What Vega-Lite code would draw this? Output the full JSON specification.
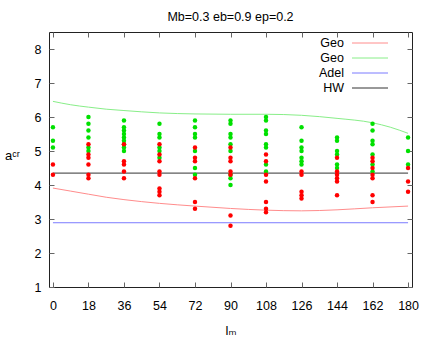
{
  "$schema": "https://vega.github.io/schema/vega-lite/v6.json",
  "width": 363,
  "height": 255,
  "autosize": {"type": "none"},
  "padding": {"left": 49, "top": 32, "right": 24, "bottom": 67},
  "background": "white",
  "title": {"text": "Mb=0.3  eb=0.9  ep=0.2", "font": "Liberation Sans", "fontSize": 12.5, "fontWeight": "normal", "color": "black", "anchor": "middle", "baseline": "alphabetic", "offset": 11, "dy": 13},
  "config": {
    "view": {"stroke": "#222", "strokeWidth": 1},
    "axis": {"labelFont": "Liberation Sans", "labelFontSize": 12.5, "labelColor": "black", "titleFont": "Liberation Sans, DejaVu Sans", "titleFontSize": 13, "titleFontWeight": "normal", "titleColor": "black", "tickColor": "#666", "tickSize": -5, "domain": false, "grid": false, "minExtent": 0}
  },
  "datasets": {
    "pts": [
      {"l":0,"a":5.7,"s":"g"},{"l":0,"a":5.3,"s":"g"},{"l":0,"a":5.1,"s":"g"},
      {"l":18,"a":6.0,"s":"g"},{"l":18,"a":5.8,"s":"g"},{"l":18,"a":5.6,"s":"g"},{"l":18,"a":5.4,"s":"g"},{"l":18,"a":5.1,"s":"g"},{"l":18,"a":5.0,"s":"g"},
      {"l":36,"a":5.9,"s":"g"},{"l":36,"a":5.7,"s":"g"},{"l":36,"a":5.6,"s":"g"},{"l":36,"a":5.5,"s":"g"},{"l":36,"a":5.4,"s":"g"},{"l":36,"a":5.3,"s":"g"},{"l":36,"a":5.2,"s":"g"},{"l":36,"a":5.1,"s":"g"},{"l":36,"a":5.0,"s":"g"},
      {"l":54,"a":5.8,"s":"g"},{"l":54,"a":5.5,"s":"g"},{"l":54,"a":5.4,"s":"g"},{"l":54,"a":5.1,"s":"g"},{"l":54,"a":5.0,"s":"g"},{"l":54,"a":4.8,"s":"g"},
      {"l":72,"a":5.9,"s":"g"},{"l":72,"a":5.7,"s":"g"},{"l":72,"a":5.5,"s":"g"},{"l":72,"a":5.4,"s":"g"},{"l":72,"a":5.0,"s":"g"},{"l":72,"a":4.5,"s":"g"},{"l":72,"a":4.3,"s":"g"},
      {"l":90,"a":5.9,"s":"g"},{"l":90,"a":5.8,"s":"g"},{"l":90,"a":5.5,"s":"g"},{"l":90,"a":5.4,"s":"g"},{"l":90,"a":5.2,"s":"g"},{"l":90,"a":5.0,"s":"g"},{"l":90,"a":4.3,"s":"g"},{"l":90,"a":4.2,"s":"g"},{"l":90,"a":4.0,"s":"g"},
      {"l":108,"a":6.0,"s":"g"},{"l":108,"a":5.9,"s":"g"},{"l":108,"a":5.6,"s":"g"},{"l":108,"a":5.5,"s":"g"},{"l":108,"a":5.2,"s":"g"},{"l":108,"a":5.1,"s":"g"},{"l":108,"a":4.6,"s":"g"},{"l":108,"a":4.4,"s":"g"},
      {"l":126,"a":5.7,"s":"g"},{"l":126,"a":5.3,"s":"g"},{"l":126,"a":5.1,"s":"g"},{"l":126,"a":5.0,"s":"g"},{"l":126,"a":4.8,"s":"g"},{"l":126,"a":4.7,"s":"g"},{"l":126,"a":4.6,"s":"g"},
      {"l":144,"a":5.4,"s":"g"},{"l":144,"a":5.3,"s":"g"},{"l":144,"a":5.0,"s":"g"},{"l":144,"a":4.9,"s":"g"},{"l":144,"a":4.6,"s":"g"},{"l":144,"a":4.5,"s":"g"},
      {"l":162,"a":5.8,"s":"g"},{"l":162,"a":5.6,"s":"g"},{"l":162,"a":5.3,"s":"g"},{"l":162,"a":5.2,"s":"g"},{"l":162,"a":4.9,"s":"g"},{"l":162,"a":4.6,"s":"g"},{"l":162,"a":4.4,"s":"g"},
      {"l":180,"a":5.4,"s":"g"},{"l":180,"a":5.0,"s":"g"},{"l":180,"a":4.6,"s":"g"},
      {"l":0,"a":4.6,"s":"r"},{"l":0,"a":4.3,"s":"r"},
      {"l":18,"a":5.2,"s":"r"},{"l":18,"a":4.9,"s":"r"},{"l":18,"a":4.8,"s":"r"},{"l":18,"a":4.6,"s":"r"},{"l":18,"a":4.3,"s":"r"},{"l":18,"a":4.2,"s":"r"},
      {"l":36,"a":5.2,"s":"r"},{"l":36,"a":4.7,"s":"r"},{"l":36,"a":4.6,"s":"r"},{"l":36,"a":4.4,"s":"r"},{"l":36,"a":4.2,"s":"r"},
      {"l":54,"a":5.2,"s":"r"},{"l":54,"a":4.9,"s":"r"},{"l":54,"a":4.7,"s":"r"},{"l":54,"a":4.4,"s":"r"},{"l":54,"a":4.3,"s":"r"},{"l":54,"a":3.9,"s":"r"},{"l":54,"a":3.8,"s":"r"},{"l":54,"a":3.7,"s":"r"},
      {"l":72,"a":5.1,"s":"r"},{"l":72,"a":4.8,"s":"r"},{"l":72,"a":4.7,"s":"r"},{"l":72,"a":4.2,"s":"r"},{"l":72,"a":3.5,"s":"r"},{"l":72,"a":3.3,"s":"r"},
      {"l":90,"a":5.1,"s":"r"},{"l":90,"a":4.8,"s":"r"},{"l":90,"a":4.7,"s":"r"},{"l":90,"a":4.4,"s":"r"},{"l":90,"a":4.3,"s":"r"},{"l":90,"a":3.1,"s":"r"},{"l":90,"a":2.8,"s":"r"},
      {"l":108,"a":4.9,"s":"r"},{"l":108,"a":4.7,"s":"r"},{"l":108,"a":4.3,"s":"r"},{"l":108,"a":4.1,"s":"r"},{"l":108,"a":3.5,"s":"r"},{"l":108,"a":3.3,"s":"r"},{"l":108,"a":3.2,"s":"r"},
      {"l":126,"a":4.4,"s":"r"},{"l":126,"a":4.3,"s":"r"},{"l":126,"a":3.8,"s":"r"},{"l":126,"a":3.7,"s":"r"},{"l":126,"a":3.6,"s":"r"},
      {"l":144,"a":4.8,"s":"r"},{"l":144,"a":4.4,"s":"r"},{"l":144,"a":4.3,"s":"r"},{"l":144,"a":4.2,"s":"r"},{"l":144,"a":4.1,"s":"r"},{"l":144,"a":3.7,"s":"r"},
      {"l":162,"a":4.8,"s":"r"},{"l":162,"a":4.7,"s":"r"},{"l":162,"a":4.5,"s":"r"},{"l":162,"a":4.3,"s":"r"},{"l":162,"a":4.2,"s":"r"},{"l":162,"a":3.7,"s":"r"},{"l":162,"a":3.5,"s":"r"},
      {"l":180,"a":4.5,"s":"r"},{"l":180,"a":4.1,"s":"r"},{"l":180,"a":3.8,"s":"r"}
    ],
    "lines": [
      {"l":0,"a":3.91,"c":"Geo1"},{"l":9,"a":3.82,"c":"Geo1"},{"l":18,"a":3.73,"c":"Geo1"},{"l":27,"a":3.64,"c":"Geo1"},{"l":36,"a":3.57,"c":"Geo1"},{"l":54,"a":3.46,"c":"Geo1"},{"l":72,"a":3.38,"c":"Geo1"},{"l":90,"a":3.31,"c":"Geo1"},{"l":108,"a":3.26,"c":"Geo1"},{"l":126,"a":3.24,"c":"Geo1"},{"l":144,"a":3.27,"c":"Geo1"},{"l":162,"a":3.33,"c":"Geo1"},{"l":180,"a":3.38,"c":"Geo1"},
      {"l":0,"a":6.46,"c":"Geo2"},{"l":9,"a":6.36,"c":"Geo2"},{"l":18,"a":6.29,"c":"Geo2"},{"l":27,"a":6.23,"c":"Geo2"},{"l":36,"a":6.19,"c":"Geo2"},{"l":54,"a":6.12,"c":"Geo2"},{"l":72,"a":6.09,"c":"Geo2"},{"l":90,"a":6.08,"c":"Geo2"},{"l":108,"a":6.08,"c":"Geo2"},{"l":126,"a":6.05,"c":"Geo2"},{"l":144,"a":5.96,"c":"Geo2"},{"l":162,"a":5.83,"c":"Geo2"},{"l":171,"a":5.7,"c":"Geo2"},{"l":180,"a":5.52,"c":"Geo2"},
      {"l":0,"a":2.89,"c":"Adel"},{"l":180,"a":2.89,"c":"Adel"},
      {"l":0,"a":4.35,"c":"HW"},{"l":180,"a":4.35,"c":"HW"}
    ]
  },
  "layer": [
    {
      "data": {"name": "lines"},
      "mark": {"type": "line", "strokeWidth": 1, "interpolate": "monotone"},
      "encoding": {
        "x": {"field": "l", "type": "quantitative", "scale": {"domain": [-2, 182], "nice": false, "zero": false},
              "axis": {"orient": "bottom", "values": [0,18,36,54,72,90,108,126,144,162,180], "labelPadding": 17, "title": "lₘ", "titleY": 43, "titleBaseline": "middle"}},
        "y": {"field": "a", "type": "quantitative", "scale": {"domain": [1, 8.5], "nice": false, "zero": false},
              "axis": {"orient": "left", "values": [1,2,3,4,5,6,7,8], "labelPadding": 13, "title": "aᶜʳ", "titleAngle": 0, "titleX": -37, "titleY": 123, "titleAlign": "center", "titleBaseline": "middle"}},
        "color": {"field": "c", "type": "nominal",
                  "scale": {"domain": ["Geo1", "Geo2", "Adel", "HW"], "range": ["#ff8c8c", "#88ee88", "#7b7bff", "#333333"]},
                  "legend": {"title": null, "orient": "none", "legendX": 255, "legendY": 4.75, "padding": 0,
                             "symbolType": "M-1.25,0M8.35,0H15.55", "symbolSize": 100, "symbolStrokeWidth": 1, "rowPadding": 2,
                             "labelAlign": "right", "labelOffset": 27.5, "labelFont": "Liberation Sans", "labelFontSize": 12.5, "labelColor": "black",
                             "labelExpr": "datum.label == 'Geo1' || datum.label == 'Geo2' ? 'Geo' : datum.label"}},
        "detail": {"field": "c"}
      }
    },
    {
      "data": {"name": "pts"},
      "mark": {"type": "circle", "size": 20, "opacity": 1},
      "encoding": {
        "x": {"field": "l", "type": "quantitative", "axis": {"orient": "top", "values": [0,18,36,54,72,90,108,126,144,162,180], "labels": false, "title": null}},
        "y": {"field": "a", "type": "quantitative", "axis": {"orient": "right", "values": [1,2,3,4,5,6,7,8], "labels": false, "title": null}},
        "color": {"condition": {"test": "datum.s == 'g'", "value": "#00e000"}, "value": "#ff0000"}
      }
    }
  ]
}
